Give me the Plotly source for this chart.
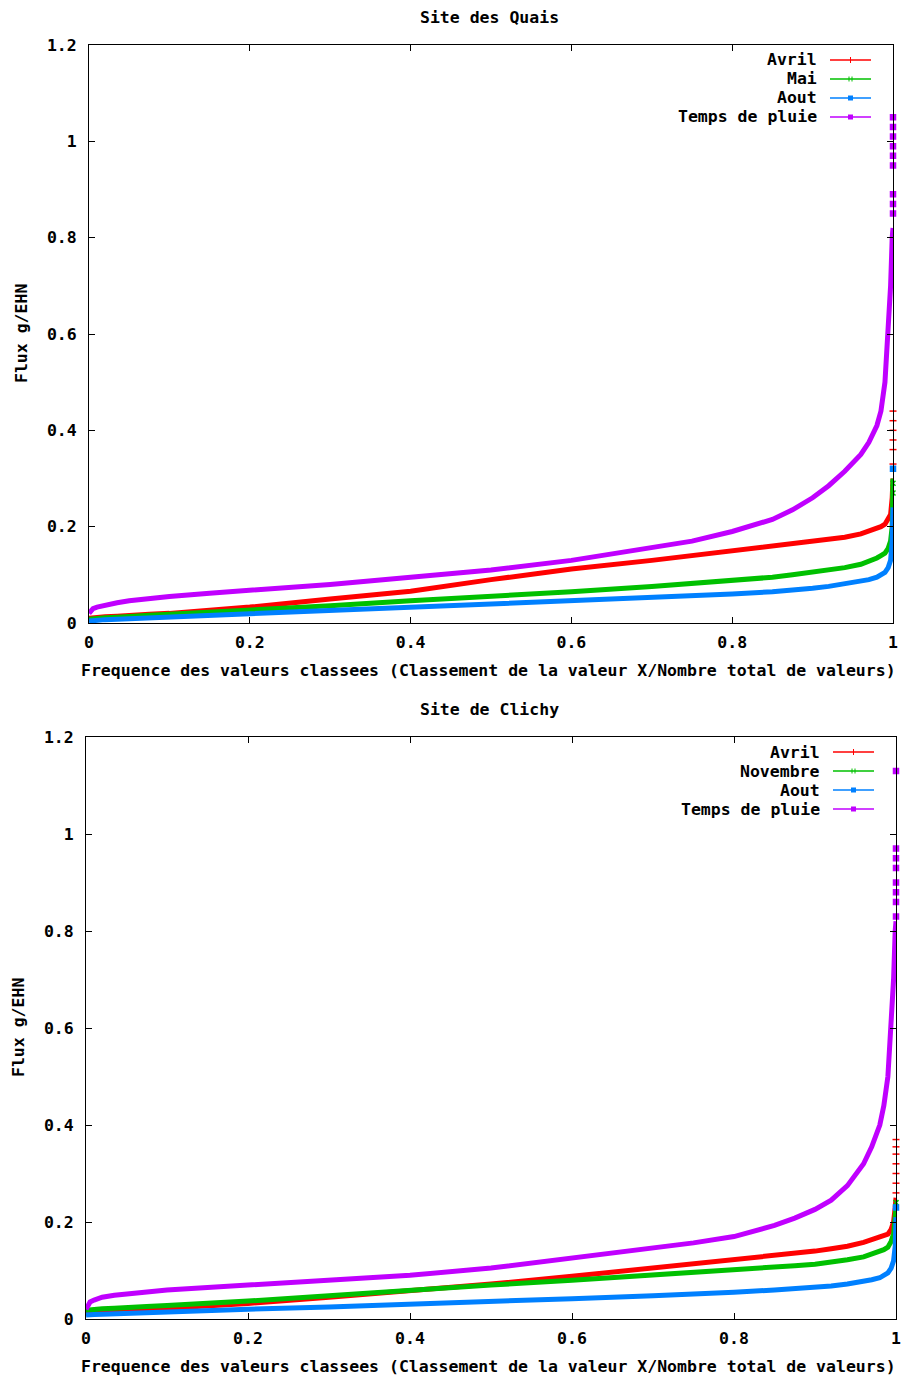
import plotly.graph_objects as go

# ---------------- data ----------------
FREQ = [0, 0.002, 0.005, 0.01, 0.02, 0.035, 0.05, 0.075, 0.1, 0.15, 0.2, 0.3, 0.4, 0.5,
        0.6, 0.7, 0.75, 0.8, 0.85, 0.875, 0.9, 0.92, 0.94, 0.96, 0.97, 0.98, 0.985,
        0.99, 0.994, 0.997, 0.999, 1.0]

# Site des Quais
quais_avril = [0.01, 0.0105, 0.011, 0.012, 0.013, 0.014, 0.016, 0.018, 0.02, 0.026, 0.033,
               0.05, 0.066, 0.09, 0.112, 0.13, 0.14, 0.15, 0.158, 0.163, 0.168, 0.172, 0.178,
               0.185, 0.19, 0.195, 0.2, 0.205, 0.215, 0.225, 0.26, 0.30]
quais_mai = [0.008, 0.0085, 0.009, 0.01, 0.011, 0.012, 0.014, 0.016, 0.018, 0.022, 0.026,
             0.036, 0.046, 0.055, 0.065, 0.076, 0.082, 0.088, 0.095, 0.1, 0.105, 0.109, 0.115,
             0.122, 0.128, 0.135, 0.14, 0.145, 0.155, 0.17, 0.2, 0.30]
quais_aout = [0.004, 0.0045, 0.005, 0.006, 0.007, 0.008, 0.009, 0.011, 0.012, 0.015, 0.018,
              0.025, 0.032, 0.038, 0.045, 0.052, 0.056, 0.06, 0.065, 0.068, 0.072, 0.076, 0.081,
              0.086, 0.09, 0.095, 0.1, 0.105, 0.115, 0.13, 0.17, 0.24]
quais_pluie = [0.02, 0.026, 0.03, 0.033, 0.037, 0.042, 0.046, 0.051, 0.055, 0.062, 0.068,
               0.08, 0.095, 0.11, 0.13, 0.155, 0.17, 0.19, 0.215, 0.235, 0.26, 0.285, 0.315,
               0.35, 0.375, 0.41, 0.44, 0.5, 0.6, 0.7, 0.8, 0.82]
# isolated extreme values (frequency 1)
quais_avril_ext = [0.33, 0.36, 0.38, 0.40, 0.42, 0.44]
quais_mai_ext = [0.27, 0.29]
quais_aout_ext = [0.32]
quais_pluie_ext = [0.85, 0.87, 0.89, 0.95, 0.97, 0.99, 1.01, 1.03, 1.05]

# Site de Clichy
clichy_avril = [0.012, 0.0125, 0.013, 0.014, 0.015, 0.016, 0.018, 0.02, 0.022, 0.027, 0.032,
                0.045, 0.058, 0.072, 0.088, 0.105, 0.113, 0.122, 0.13, 0.135, 0.14, 0.145, 0.15,
                0.158, 0.163, 0.168, 0.171, 0.175, 0.185, 0.2, 0.23, 0.25]
clichy_novembre = [0.018, 0.0185, 0.019, 0.02, 0.021, 0.022, 0.024, 0.026, 0.028, 0.032, 0.037,
                   0.048, 0.06, 0.07, 0.08, 0.09, 0.095, 0.1, 0.106, 0.11, 0.113, 0.117, 0.122,
                   0.128, 0.133, 0.138, 0.143, 0.148, 0.16, 0.175, 0.2, 0.23]
clichy_aout = [0.008, 0.0085, 0.009, 0.0095, 0.01, 0.011, 0.012, 0.013, 0.014, 0.017, 0.02,
               0.025, 0.03, 0.036, 0.042, 0.048, 0.051, 0.055, 0.06, 0.062, 0.065, 0.068, 0.072,
               0.077, 0.081, 0.085, 0.09, 0.095, 0.105, 0.12, 0.15, 0.21]
clichy_pluie = [0.02, 0.028, 0.035, 0.039, 0.045, 0.049, 0.052, 0.056, 0.06, 0.065, 0.07,
                0.08, 0.09, 0.105, 0.125, 0.145, 0.157, 0.17, 0.193, 0.208, 0.226, 0.245, 0.275,
                0.32, 0.355, 0.4, 0.44, 0.5, 0.6, 0.7, 0.8, 0.82]
clichy_avril_ext = [0.26, 0.28, 0.30, 0.32, 0.34, 0.355, 0.37]
clichy_novembre_ext = [0.24]
clichy_aout_ext = [0.23]
clichy_pluie_ext = [0.83, 0.86, 0.88, 0.90, 0.93, 0.95, 0.97, 1.13]

X_TICKS = [0, 0.2, 0.4, 0.6, 0.8, 1]
Y_TICKS = [0, 0.2, 0.4, 0.6, 0.8, 1, 1.2]

TITLES = ["Site des Quais", "Site de Clichy"]
X_TITLE = "Frequence des valeurs classees (Classement de la valeur X/Nombre total de valeurs)"
Y_TITLE = "Flux g/EHN"

# ---------------- style ----------------
W, H = 903, 1378
RED, GREEN, BLUE, PURPLE = "#ff0000", "#00c000", "#0080ff", "#c000ff"
FONT = dict(family="DejaVu Sans Mono", size=16.5, color="black", weight="bold")

fig = go.Figure()

panels = [
    dict(xa="x", ya="y", series=[
        ("Avril", RED, quais_avril, quais_avril_ext, "line-ew"),
        ("Mai", GREEN, quais_mai, quais_mai_ext, "x-thin"),
        ("Aout", BLUE, quais_aout, quais_aout_ext, "square"),
        ("Temps de pluie", PURPLE, quais_pluie, quais_pluie_ext, "square")]),
    dict(xa="x2", ya="y2", series=[
        ("Avril", RED, clichy_avril, clichy_avril_ext, "line-ew"),
        ("Novembre", GREEN, clichy_novembre, clichy_novembre_ext, "x-thin"),
        ("Aout", BLUE, clichy_aout, clichy_aout_ext, "square"),
        ("Temps de pluie", PURPLE, clichy_pluie, clichy_pluie_ext, "square")]),
]

for p in panels:
    for name, col, ys, ext, sym in p["series"]:
        fig.add_trace(go.Scatter(x=FREQ, y=ys, mode="lines", name=name,
                                 line=dict(color=col, width=5),
                                 xaxis=p["xa"], yaxis=p["ya"], showlegend=False))
        fig.add_trace(go.Scatter(x=[1.0] * len(ext), y=ext, mode="markers",
                                 marker=dict(color=col, size=5, symbol=sym,
                                             line=dict(color=col, width=1.5)),
                                 xaxis=p["xa"], yaxis=p["ya"], showlegend=False,
                                 cliponaxis=False))

# plot-area pixel geometry
boxes = [
    dict(l=89, r=893, t=45, b=623),
    dict(l=86, r=896, t=737, b=1319),
]

def px(x):
    return x / W

def py(y):
    return 1 - y / H

axis_common = dict(showgrid=False, zeroline=False, showline=True,
                   linecolor="black", linewidth=1, mirror="allticks",
                   ticks="inside", ticklen=6, tickcolor="black", tickwidth=1,
                   tickfont=FONT, automargin=False)

for i, b in enumerate(boxes):
    sx = "" if i == 0 else "2"
    xa = dict(axis_common)
    xa.update(domain=[px(b["l"]), px(b["r"])], range=[0, 1], tickvals=X_TICKS,
              ticktext=[f"{v:g}" for v in X_TICKS], anchor="y" + sx,
              ticklabelstandoff=4)
    ya = dict(axis_common)
    ya.update(domain=[py(b["b"]), py(b["t"])], range=[0, 1.2], tickvals=Y_TICKS,
              ticktext=[f"{v:g}" for v in Y_TICKS], anchor="x" + sx,
              ticklabelstandoff=8)
    fig.layout["xaxis" + sx] = xa
    fig.layout["yaxis" + sx] = ya

annotations = []
shapes = []
for i, b in enumerate(boxes):
    cx = (b["l"] + b["r"]) / 2
    cy = (b["t"] + b["b"]) / 2
    annotations.append(dict(text=TITLES[i], x=px(cx - 2), y=py(b["t"] - 28),
                            xref="paper", yref="paper", showarrow=False,
                            xanchor="center", yanchor="middle", font=FONT))
    annotations.append(dict(text=X_TITLE, x=px(cx - 3), y=py(b["b"] + 47),
                            xref="paper", yref="paper", showarrow=False,
                            xanchor="center", yanchor="middle", font=FONT))
    annotations.append(dict(text=Y_TITLE, x=px(b["l"] - 68), y=py(cy),
                            xref="paper", yref="paper", showarrow=False,
                            textangle=-90, xanchor="center", yanchor="middle",
                            font=FONT))
    # legend (text on left, sample line on right, like gnuplot)
    text_r = b["r"] - 74
    line_l, line_r = b["r"] - 63, b["r"] - 22
    for k, (name, col, _, _, sym) in enumerate(panels[i]["series"]):
        yy = b["t"] + 15 + 19 * k
        annotations.append(dict(text=name, x=px(text_r), y=py(yy), xref="paper",
                                yref="paper", showarrow=False, xanchor="right",
                                yanchor="middle", font=FONT))
        shapes.append(dict(type="line", xref="paper", yref="paper",
                           x0=px(line_l), x1=px(line_r), y0=py(yy), y1=py(yy),
                           line=dict(color=col, width=1.5)))
        mx = (line_l + line_r) / 2
        if sym == "square":
            shapes.append(dict(type="rect", xref="paper", yref="paper",
                               x0=px(mx - 2.5), x1=px(mx + 2.5),
                               y0=py(yy + 2.5), y1=py(yy - 2.5),
                               fillcolor=col, line=dict(color=col, width=0)))
        elif sym == "line-ew":
            shapes.append(dict(type="line", xref="paper", yref="paper",
                               x0=px(mx), x1=px(mx), y0=py(yy - 3), y1=py(yy + 3),
                               line=dict(color=col, width=1)))
        else:
            for dx in (-1.5, 1.5):
                shapes.append(dict(type="line", xref="paper", yref="paper",
                                   x0=px(mx + dx), x1=px(mx + dx),
                                   y0=py(yy - 2.5), y1=py(yy + 2.5),
                                   line=dict(color=col, width=1)))

fig.update_layout(width=W, height=H, margin=dict(l=0, r=0, t=0, b=0),
                  paper_bgcolor="white", plot_bgcolor="white",
                  annotations=annotations, shapes=shapes, showlegend=False,
                  font=FONT)

fig.write_html("out.html", config={"displayModeBar": False},
               post_script="document.body.style.margin='0px';"
                           "document.body.style.overflow='hidden';")
